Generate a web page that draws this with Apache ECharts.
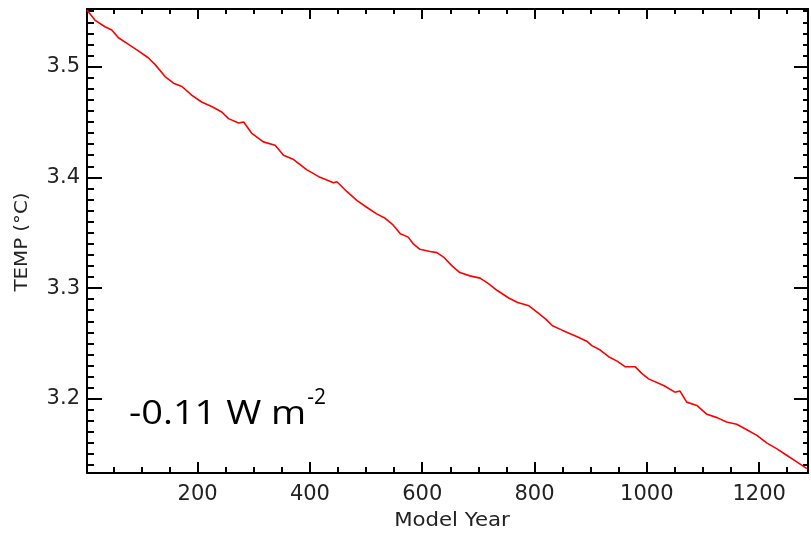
<!DOCTYPE html>
<html><head><meta charset="utf-8">
<script src="https://cdn.jsdelivr.net/npm/echarts@6/dist/echarts.min.js"></script>
<style>html,body{margin:0;padding:0;background:#fff}#c{width:811px;height:533px}</style>
</head><body><div id="c"></div>
<script>
var years = [3,17,35,47,59,77,95,112,124,142,
  157,172,190,207,225,243,255,273,282,296,
  317,338,353,371,394,418,442,448,466,484,
  501,519,534,548,561,575,584,596,614,626,
  638,653,667,685,703,718,733,754,770,790,
  805,820,832,849,876,893,902,917,932,947,
  961,979,991,1003,1030,1050,1059,1071,1089,1107,
  1125,1142,1160,1178,1196,1214,1231,1249,1267,1285];
var temps = [3.551,3.542,3.536,3.533,3.526,3.520,3.514,3.508,3.502,3.491,
  3.485,3.482,3.474,3.468,3.464,3.459,3.453,3.449,3.450,3.440,
  3.432,3.429,3.420,3.416,3.407,3.400,3.395,3.396,3.387,3.379,
  3.373,3.367,3.363,3.357,3.349,3.346,3.340,3.335,3.333,3.332,
  3.328,3.320,3.314,3.311,3.309,3.304,3.298,3.291,3.287,3.284,
  3.278,3.272,3.266,3.262,3.256,3.252,3.248,3.244,3.238,3.234,
  3.229,3.229,3.223,3.218,3.212,3.206,3.207,3.197,3.194,3.186,
  3.183,3.179,3.177,3.172,3.167,3.160,3.155,3.149,3.143,3.137];
var xMajor = [200,400,600,800,1000,1200];
var xMinor = [50,100,150,250,300,350,450,500,550,650,700,750,850,900,950,1050,1100,1150,1250];
var yMajor = [3.2,3.3,3.4,3.5];
var yMinor = [3.14,3.15,3.16,3.17,3.18,3.19,3.21,3.22,3.23,3.24,3.25,3.26,3.27,3.28,3.29,
  3.31,3.32,3.33,3.34,3.35,3.36,3.37,3.38,3.39,3.41,3.42,3.43,3.44,3.45,3.46,3.47,3.48,3.49,
  3.51,3.52,3.53,3.54,3.55];
var xMin = 3, xMax = 1287, yMin = 3.133, yMax = 3.552;
var xTitle = 'Model Year', yTitle = 'TEMP (°C)';
var note = '-0.11 W m', noteSup = '-2';

var FONT = 'DejaVu Sans';
function axis(kind, pos, ticks, len, labels, line) {
  return {
    type: 'value', position: pos, min: kind === 'x' ? xMin : yMin, max: kind === 'x' ? xMax : yMax,
    axisLine: {show: line, onZero: false, lineStyle: {color: '#000', width: 2}},
    axisTick: {show: true, inside: true, length: len, customValues: ticks, lineStyle: {color: '#000', width: 2}},
    axisLabel: labels ? {show: true, customValues: ticks, fontSize: 21, fontFamily: FONT, color: '#222',
      margin: kind === 'x' ? 11 : 7, formatter: function (v) { return String(v); }} : {show: false},
    splitLine: {show: false}, minorTick: {show: false}
  };
}
var noteFont = '33px "Open Sans"', supFont = '21px "Open Sans"', noteScale = 1.15;
var cv = document.createElement('canvas').getContext('2d');
cv.font = noteFont;
var noteW = cv.measureText(note).width * noteScale;
var noteX = 129;

var chart = echarts.init(document.getElementById('c'));
chart.setOption({
  animation: false,
  grid: {left: 87, right: 3, top: 9, bottom: 60, containLabel: false},
  xAxis: [
    axis('x', 'bottom', xMajor, 11, true, true),
    axis('x', 'bottom', xMinor, 6, false, false),
    axis('x', 'top', xMajor, 10, false, true),
    axis('x', 'top', xMinor, 5, false, false)
  ],
  yAxis: [
    axis('y', 'left', yMajor, 15, true, true),
    axis('y', 'left', yMinor, 7, false, false),
    axis('y', 'right', yMajor, 14, false, true),
    axis('y', 'right', yMinor, 5, false, false)
  ],
  series: [{
    type: 'line', xAxisIndex: 0, yAxisIndex: 0, showSymbol: false, symbol: 'none',
    data: years.map(function (y, i) { return [y, temps[i]]; }),
    lineStyle: {color: '#ff0000', width: 1.6}, clip: true
  }],
  graphic: [
    {type: 'text', x: 452, y: 521, scaleX: 1.12, style: {text: xTitle, font: '19px "DejaVu Sans"', fill: '#222', align: 'center', verticalAlign: 'middle'}},
    {type: 'text', x: 22, y: 242, rotation: Math.PI / 2, scaleX: 1.1, style: {text: yTitle, font: '18px "DejaVu Sans"', fill: '#222', align: 'center', verticalAlign: 'middle'}},
    {type: 'text', x: noteX, y: 415, scaleX: noteScale, style: {text: note, font: noteFont, fill: '#000', align: 'left', verticalAlign: 'middle'}},
    {type: 'text', x: noteX + noteW + 1, y: 398, style: {text: noteSup, font: supFont, fill: '#000', align: 'left', verticalAlign: 'middle'}}
  ]
});
</script></body></html>
